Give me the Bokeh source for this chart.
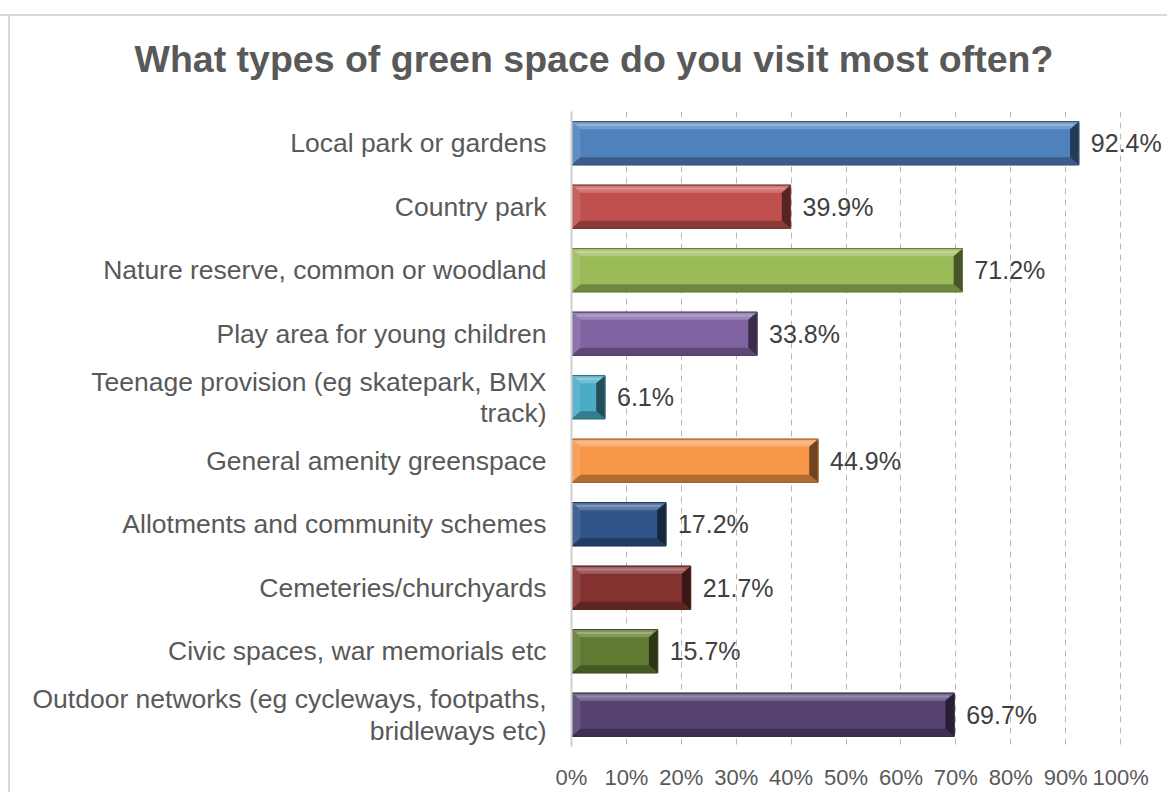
from bokeh.plotting import figure
from bokeh.models import ColumnDataSource, Range1d, FixedTicker
from bokeh.embed import file_html
from bokeh.resources import INLINE
from bokeh.core.properties import value

title_text = "What types of green space do you visit most often?"
categories = [
    "Local park or gardens",
    "Country park",
    "Nature reserve, common or woodland",
    "Play area for young children",
    "Teenage provision (eg skatepark, BMX\ntrack)",
    "General amenity greenspace",
    "Allotments and community schemes",
    "Cemeteries/churchyards",
    "Civic spaces, war memorials etc",
    "Outdoor networks (eg cycleways, footpaths,\nbridleways etc)",
]
percent = [92.4, 39.9, 71.2, 33.8, 6.1, 44.9, 17.2, 21.7, 15.7, 69.7]
bar_colors = ["#4F81BD", "#C0504D", "#9BBB59", "#8064A2", "#4BACC6",
              "#F79646", "#2F5487", "#843230", "#617A31", "#564372"]
tick_values = [0, 10, 20, 30, 40, 50, 60, 70, 80, 90, 100]
tick_labels = ["0%", "10%", "20%", "30%", "40%", "50%", "60%", "70%", "80%", "90%", "100%"]

FONT = "Liberation Sans"


def mix(hex_color, other, t):
    h = hex_color.lstrip("#")
    o = other.lstrip("#")
    c = [int(h[i:i + 2], 16) for i in (0, 2, 4)]
    d = [int(o[i:i + 2], 16) for i in (0, 2, 4)]
    r = [round(a + (b - a) * t) for a, b in zip(c, d)]
    return "#%02x%02x%02x" % tuple(r)


ypos = list(range(len(categories)))

p = figure(width=1167, height=792, output_backend="svg", toolbar_location=None,
           x_range=Range1d(0, 108), y_range=Range1d(len(categories) - 0.5, -0.5),
           min_border_left=571, min_border_right=3, min_border_top=111,
           min_border_bottom=37)
p.border_fill_color = None
p.background_fill_color = None
p.outline_line_color = None
p.styles = {
    "background": "linear-gradient(#d9d9d9,#d9d9d9) 0px 14px / 100% 2px no-repeat, "
                  "linear-gradient(#d9d9d9,#d9d9d9) 8px 14px / 2px 100% no-repeat, white"
}

p.title.text = title_text
p.title.text_font = FONT
p.title.text_font_size = "37.5px"
p.title.text_font_style = "bold"
p.title.text_color = "#595959"
p.title.align = "left"
p.title.offset = -437
p.title.standoff = 63

# grid
p.ygrid.grid_line_color = None
p.xgrid.ticker = FixedTicker(ticks=tick_values)
p.xgrid.grid_line_color = "#b8b8b8"
p.xgrid.grid_line_dash = "6 5"
p.xgrid.grid_line_width = 1

# x axis
xa = p.xaxis[0]
xa.ticker = FixedTicker(ticks=tick_values)
xa.major_label_overrides = {v: s for v, s in zip(tick_values, tick_labels)}
xa.axis_line_color = None
xa.major_tick_line_color = None
xa.minor_tick_line_color = None
xa.major_label_text_font = FONT
xa.major_label_text_font_size = "22px"
xa.major_label_text_color = "#595959"
xa.major_label_standoff = 12

# y axis
ya = p.yaxis[0]
ya.ticker = FixedTicker(ticks=ypos)
ya.major_label_overrides = {i: c for i, c in zip(ypos, categories)}
ya.axis_line_color = "#d0d0d0"
ya.axis_line_width = 2
ya.major_tick_line_color = None
ya.minor_tick_line_color = None
ya.major_label_text_font = FONT
ya.major_label_text_font_size = "26.5px"
ya.major_label_text_line_height = 1.05
ya.major_label_text_color = "#595959"
ya.major_label_standoff = 19

# bars with bevel
h = 0.34
by = 0.12
base = dict(left=[], right=[], top=[], bottom=[], fill=[], line=[])
faces = dict(xs=[], ys=[], fill=[])
hl = dict(x0=[], x1=[], y=[], color=[])
for y, v, c in zip(ypos, percent, bar_colors):
    t, b = y - h, y + h
    bx = min(1.6, v / 3.0)
    base["left"].append(0)
    base["right"].append(v)
    base["top"].append(t)
    base["bottom"].append(b)
    base["fill"].append(c)
    base["line"].append(mix(c, "#000000", 0.35))
    # top face
    faces["xs"].append([0, v, v - bx, bx])
    faces["ys"].append([t, t, t + by, t + by])
    faces["fill"].append(mix(c, "#ffffff", 0.22))
    # bottom face
    faces["xs"].append([0, v, v - bx, bx])
    faces["ys"].append([b, b, b - by, b - by])
    faces["fill"].append(mix(c, "#000000", 0.28))
    # left face
    faces["xs"].append([0, bx, bx, 0])
    faces["ys"].append([t, t + by, b - by, b])
    faces["fill"].append(mix(c, "#ffffff", 0.10))
    # right face
    faces["xs"].append([v, v - bx, v - bx, v])
    faces["ys"].append([t, t + by, b - by, b])
    faces["fill"].append(mix(c, "#000000", 0.55))
    hl["x0"].append(bx * 0.6)
    hl["x1"].append(v - bx * 0.6)
    hl["y"].append(t + by * 0.45)
    hl["color"].append(mix(c, "#ffffff", 0.38))

p.quad(left="left", right="right", top="top", bottom="bottom",
       fill_color="fill", line_color="line", line_width=1,
       source=ColumnDataSource(base))
p.patches(xs="xs", ys="ys", fill_color="fill", line_color=None,
          source=ColumnDataSource(faces))
p.segment(x0="x0", x1="x1", y0="y", y1="y", line_color="color", line_width=2,
          source=ColumnDataSource(hl))
p.quad(left="left", right="right", top="top", bottom="bottom",
       fill_color=None, line_color="line", line_width=1,
       source=ColumnDataSource(base))

lab = ColumnDataSource(dict(x=percent, y=ypos,
                            text=["%.1f%%" % v for v in percent]))
p.text(x="x", y="y", text="text", source=lab, x_offset=12,
       text_baseline="middle", text_align="left",
       text_font=value(FONT), text_font_size="25px", text_color="#404040")

open("out.html", "w").write(file_html(p, INLINE))
